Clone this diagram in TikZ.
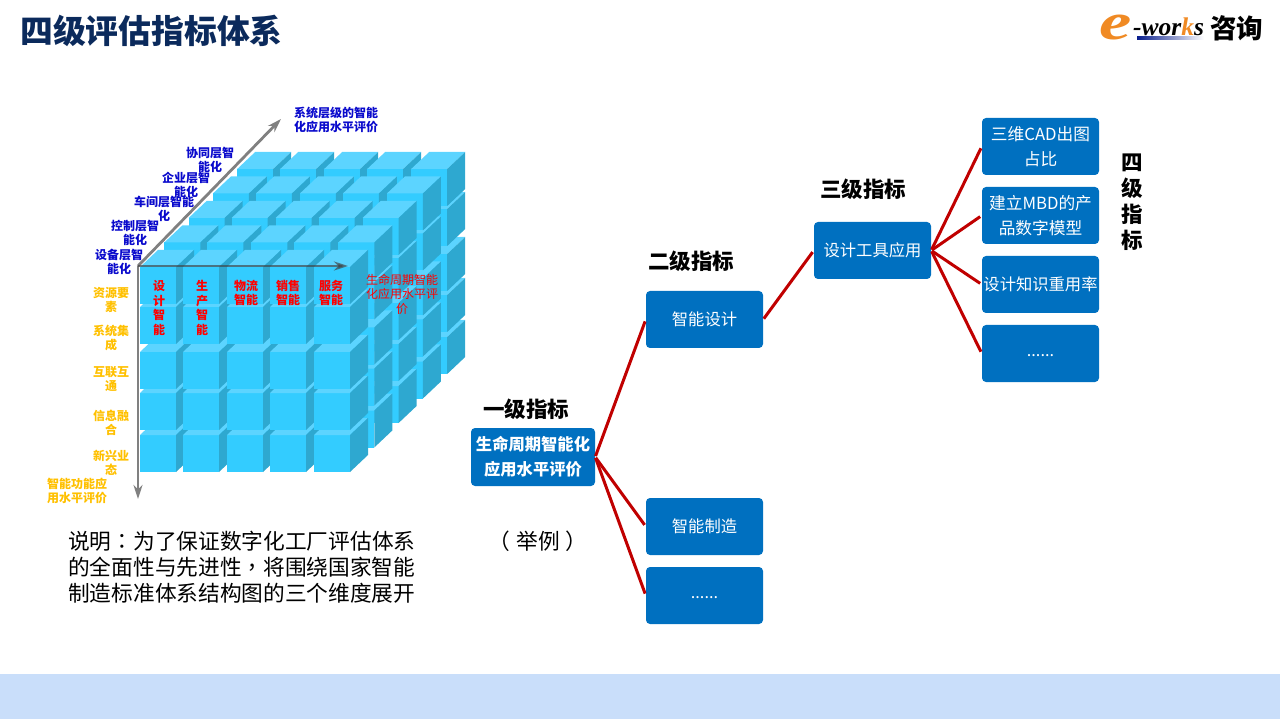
\documentclass[tikz,border=0pt]{standalone}
\usepackage{fontspec}
\setmainfont{Noto Sans CJK SC}
\newfontfamily\logofont{Liberation Serif}
\newfontfamily\puncfont{Noto Sans CJK TC}
\usetikzlibrary{arrows.meta}
\definecolor{boxblue}{HTML}{0070C0}
\definecolor{linkred}{HTML}{C00000}
\definecolor{titlenavy}{HTML}{0B2A5C}
\definecolor{bandblue}{HTML}{C9DEFA}
\definecolor{labelblue}{HTML}{0A0ACC}
\definecolor{labelgold}{HTML}{FFC000}
\definecolor{frontcol}{HTML}{33CCFF}
\definecolor{topcol}{HTML}{5CD4FF}
\definecolor{sidecol}{HTML}{2EA8D0}
\definecolor{logoorange}{HTML}{F08A24}
\tikzset{
    sizebox/.style={fill=boxblue,draw=none,rounded corners=4pt,minimum width=117pt,minimum height=57pt,inner sep=0pt,align=center,text=white,font=\fontsize{16.3}{25}\selectfont},
    headlabel/.style={inner sep=0pt,align=center,font=\fontsize{21.5}{26}\selectfont\bfseries},
    bluelabel/.style={inner sep=0pt,align=center,text=labelblue,font=\fontsize{12}{14.5}\selectfont\bfseries},
    goldlabel/.style={inner sep=0pt,align=center,text=labelgold,font=\fontsize{12}{14.5}\selectfont\bfseries},
    redlabel/.style={inner sep=0pt,align=center,text=red,font=\fontsize{12}{14.5}\selectfont\bfseries},
    link/.style={draw=linkred,line width=3pt,shorten >=2pt,shorten <=1pt},
    axisline/.style={draw=gray,line width=2.8pt,-{Stealth[length=14pt,width=9pt]}},
}
\begin{document}
\begin{tikzpicture}[x=1pt,y=-1pt]
    \useasboundingbox (0,0) rectangle (1280,719);
    \fill [bandblue] (0,674) rectangle (1280,719);

    % title and logo
    \node [anchor=west,inner sep=0pt,text=titlenavy,font=\fontsize{32.8}{36}\selectfont\bfseries] (title) at (20,31) {四级评估指标体系};
    \node [anchor=west,inner sep=0pt,xscale=1.4,text=logoorange,font=\fontsize{52}{52}\selectfont\logofont\bfseries\itshape] (logoe) at (1099,28) {e};
    \node [anchor=west,inner sep=0pt,font=\fontsize{25.5}{26}\selectfont\logofont\bfseries\itshape] (logoworks) at (1133,27) {-wor\textcolor{logoorange}{k}s};
    \shade [left color=titlenavy!70!blue,right color=white] (1137,37) rectangle (1204,40);
    \node [anchor=west,inner sep=0pt,font=\fontsize{26.5}{27}\selectfont\bfseries] (logoname) at (1210,28) {咨询};

    % cube, back to front
    \foreach \d in {4,3,2,1,0}{%
        \foreach \ry in {435,393,352,307,267}{%
            \foreach \cx in {140,183,227,270,314}{%
                \begin{scope}[shift={(\d*24.3,-\d*24.5)}]
                    \fill [frontcol] (\cx,\ry) rectangle ++(36,37);
                    \fill [topcol] (\cx,\ry) -- ++(18,-17) -- ++(36,0) -- ++(-18,17) -- cycle;
                    \fill [sidecol] (\cx+36,\ry) -- ++(18,-17) -- ++(0,37) -- ++(-18,17) -- cycle;
                \end{scope}
            }
        }
    }

    % axes
    \coordinate (origin) at (138,266);
    \coordinate (depthend) at (281,119);
    \coordinate (widthend) at (348,266);
    \coordinate (heightend) at (138,499);
    \draw [axisline] (origin) -- (depthend);
    \draw [axisline] (origin) -- (heightend);
    \draw [axisline,draw=black!75,draw opacity=0.65,fill opacity=0.65] (origin) -- (widthend);

    % axis labels
    \node [bluelabel] (sysname) at (336,120) {系统层级的智能\\化应用水平评价};
    \node [bluelabel] (colab) at (210,160) {协同层智\\能化};
    \node [bluelabel] (firm) at (186,185) {企业层智\\能化};
    \node [bluelabel] (shop) at (164,209) {车间层智能\\化};
    \node [bluelabel] (ctrl) at (135,233) {控制层智\\能化};
    \node [bluelabel] (equip) at (119,262) {设备层智\\能化};

    \node [goldlabel] (res) at (111,300) {资源要\\素};
    \node [goldlabel] (sysint) at (111,338) {系统集\\成};
    \node [goldlabel] (inter) at (111,379) {互联互\\通};
    \node [goldlabel] (info) at (111,423) {信息融\\合};
    \node [goldlabel] (newbiz) at (111,463) {新兴业\\态};
    \node [goldlabel] (funcname) at (77,491) {智能功能应\\用水平评价};

    \node [redlabel] (design) at (159,308) {设\\计\\智\\能};
    \node [redlabel] (prod) at (202,308) {生\\产\\智\\能};
    \node [redlabel] (logi) at (246,293) {物流\\智能};
    \node [redlabel] (sales) at (288,293) {销售\\智能};
    \node [redlabel] (serv) at (331,293) {服务\\智能};
    \node [redlabel,font=\fontsize{12}{14.5}\selectfont] (lifename) at (402,294) {生命周期智能\\化应用水平评\\价};

    % note
    \node [anchor=north west,inner sep=0pt,align=left,font=\fontsize{21.7}{26}\selectfont] (note) at (68,530.5) {说明{\puncfont ：}为了保证数字化工厂评估体系\\的全面性与先进性{\puncfont ，}将围绕国家智能\\制造标准体系结构图的三个维度展开};
    \node [inner sep=0pt,font=\fontsize{21.7}{26}\selectfont] (sample) at (538,541) {{\puncfont （}\hspace{6pt}举例\hspace{6pt}{\puncfont ）}};

    % tree
    \node [sizebox,minimum width=124pt,minimum height=58pt,font=\fontsize{16.3}{25}\selectfont\bfseries] (top) at (533,457) {生命周期智能化\\应用水平评价};
    \node [sizebox] (mida) at (704.5,319.5) {智能设计};
    \node [sizebox] (midb) at (704.5,526.5) {智能制造};
    \node [sizebox] (midc) at (704.5,595.5) {\raisebox{-2.5pt}[0pt][0pt]{......}};
    \node [sizebox] (tool) at (872.5,250.5) {设计工具应用};
    \node [sizebox,font=\fontsize{16.7}{25}\selectfont] (leafa) at (1040.5,146.5) {三维CAD出图\\占比};
    \node [sizebox,font=\fontsize{16.7}{25}\selectfont] (leafb) at (1040.5,215.5) {建立MBD的产\\品数字模型};
    \node [sizebox] (leafc) at (1040.5,284.5) {设计知识重用率};
    \node [sizebox] (leafd) at (1040.5,353.5) {\raisebox{-2.5pt}[0pt][0pt]{......}};

    \foreach \n in {mida,midb,midc}{%
        \draw [link] (top.east) -- (\n.west);
    }
    \draw [link] (mida.east) -- (tool.west);
    \foreach \n in {leafa,leafb,leafc,leafd}{%
        \draw [link] (tool.east) -- (\n.west);
    }

    \node [headlabel] (levela) at (526,409) {一级指标};
    \node [headlabel] (levelb) at (691,261) {二级指标};
    \node [headlabel] (levelc) at (863,189) {三级指标};
    \node [headlabel] (leveld) at (1132,202) {四\\级\\指\\标};
\end{tikzpicture}
\end{document}
